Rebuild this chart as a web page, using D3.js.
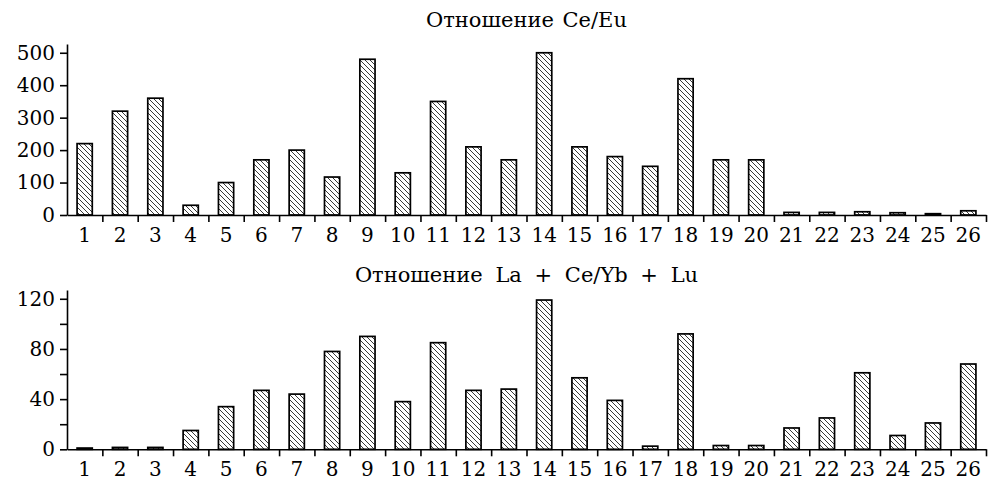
<!DOCTYPE html>
<html><head><meta charset="utf-8">
<script src="https://cdn.jsdelivr.net/npm/d3@7"></script>
<style>
html,body{margin:0;padding:0;background:#fff;}
svg text{font-family:"DejaVu Serif",serif;fill:#000;}
</style></head>
<body>
<script>
const categories = d3.range(1, 27).map(String);
const ceEu = [220, 320, 360, 30, 100, 170, 200, 117, 480, 130, 350, 210, 170, 500, 210, 180, 150, 420, 170, 170, 8, 8, 10, 7, 4, 13];
const laCeYbLu = [1, 1.5, 1.5, 15, 34, 47, 44, 78, 90, 38, 85, 47, 48, 119, 57, 39, 2.5, 92, 3, 3, 17, 25, 61, 11, 21, 68];
const topTicks = [0, 100, 200, 300, 400, 500];
const bottomTicks = [0, 20, 40, 60, 80, 100, 120];
const bottomLabeled = [0, 40, 80, 120];
const titleTop = "Отношение Ce/Eu";
const titleBottom = "Отношение La + Ce/Yb + Lu";

const W = 1000, H = 496;
const svg = d3.select("body").append("svg").attr("width", W).attr("height", H);

const defs = svg.append("defs");
const pat = defs.append("pattern").attr("id", "hatch").attr("patternUnits", "userSpaceOnUse")
  .attr("width", 5).attr("height", 5);
pat.append("rect").attr("width", 5).attr("height", 5).attr("fill", "#fff");
pat.append("path").attr("d", "M-1,-1 L6,6 M-1,4 L1,6 M4,-1 L6,1")
  .attr("stroke", "#222").attr("stroke-width", 0.9);

const left = 67, right = 986;
const x = d3.scaleBand().domain(categories).range([left, right]).paddingInner(0.57).paddingOuter(0.285);
const xEdge = d3.scaleLinear().domain([0.5, 26.5]).range([left, right]);
const edgeTicks = d3.range(1.5, 27, 1);

function panel(data, y, ticks, labeled, title, titleY, baseY, wordSpacing) {
  const g = svg.append("g");
  g.append("text").attr("x", (left + right) / 2).attr("y", titleY)
    .attr("text-anchor", "middle").attr("font-size", 21)
    .style("word-spacing", wordSpacing + "px").text(title);

  g.selectAll("rect.bar").data(data).join("rect").attr("class", "bar")
    .attr("x", (d, i) => x(categories[i]))
    .attr("width", x.bandwidth())
    .attr("y", d => y(d))
    .attr("height", d => y(0) - y(d))
    .attr("fill", "url(#hatch)").attr("stroke", "#000").attr("stroke-width", 1.7);

  const ya = g.append("g").attr("transform", `translate(${left},0)`)
    .call(d3.axisLeft(y).tickValues(ticks).tickSizeOuter(0).tickSizeInner(7).tickPadding(5)
      .tickFormat(d => labeled.includes(d) ? d : ""));
  ya.selectAll("text").attr("font-size", 20).attr("font-family", "DejaVu Serif");
  ya.selectAll("path,line").attr("stroke", "#000").attr("stroke-width", 1.6);

  const xa = g.append("g").attr("transform", `translate(0,${baseY})`)
    .call(d3.axisBottom(xEdge).tickValues(edgeTicks).tickSizeOuter(0).tickSizeInner(7).tickFormat(""));
  xa.selectAll("path,line").attr("stroke", "#000").attr("stroke-width", 1.6);

  const xl = g.append("g").attr("transform", `translate(0,${baseY})`)
    .call(d3.axisBottom(x).tickSize(0).tickPadding(13));
  xl.select("path").remove();
  xl.selectAll("text").attr("font-size", 20).attr("font-family", "DejaVu Serif");
}

const yTop = d3.scaleLinear().domain([0, 527]).range([215, 44]);
const yBot = d3.scaleLinear().domain([0, 127]).range([449.3, 290]);

panel(ceEu, yTop, topTicks, topTicks, titleTop, 27, 215, 2);
panel(laCeYbLu, yBot, bottomTicks, bottomLabeled, titleBottom, 282, 449.3, 6);
</script>
</body></html>
